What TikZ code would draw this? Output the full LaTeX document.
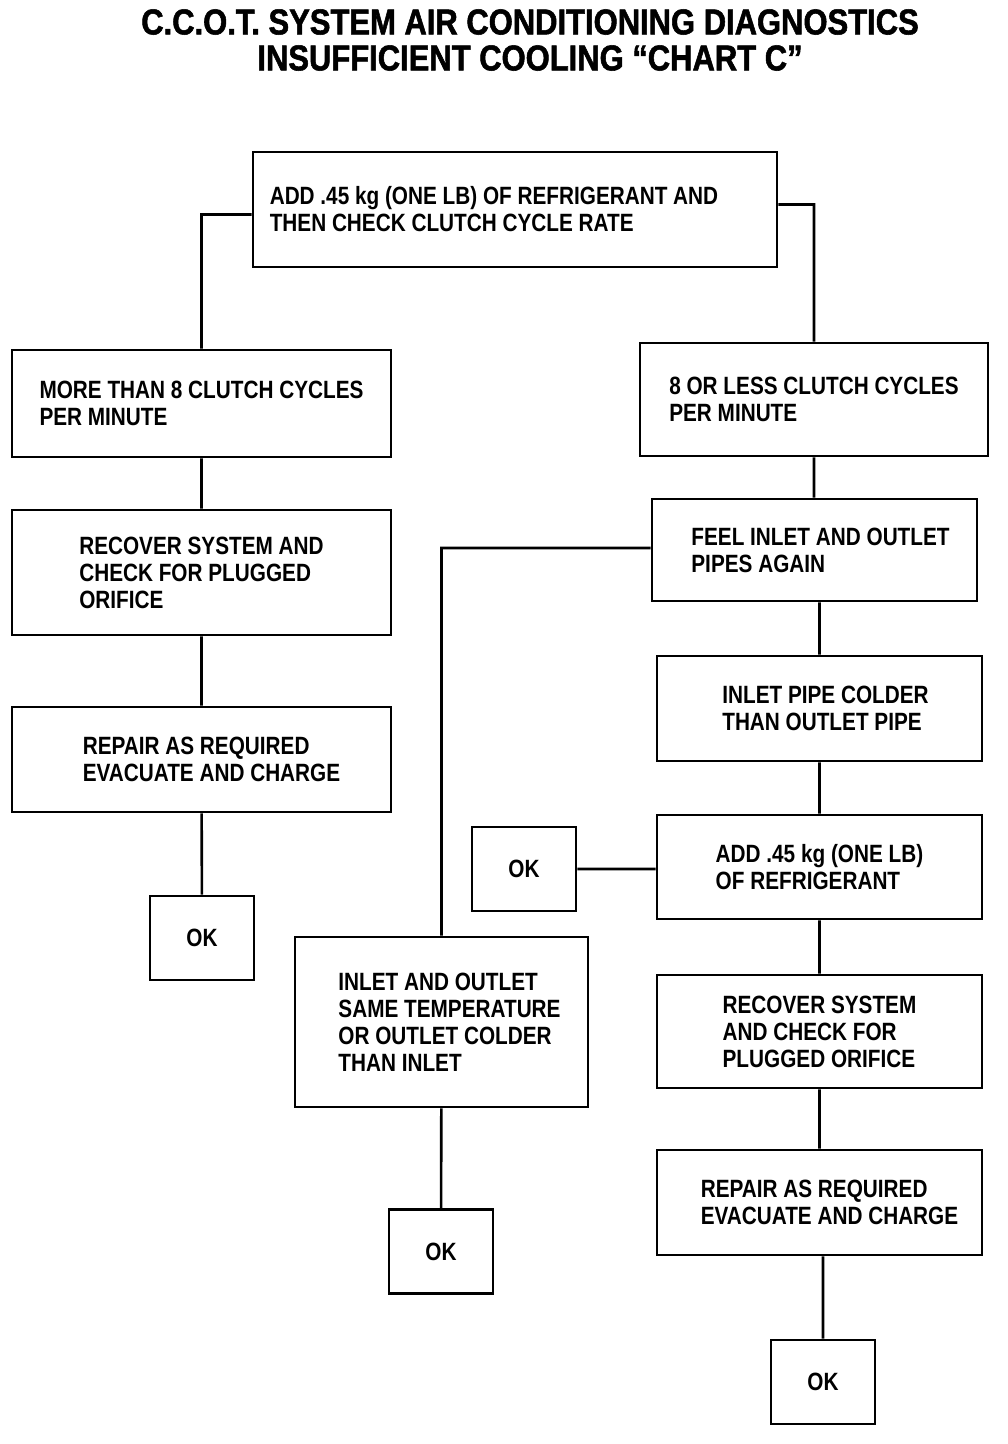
\documentclass[tikz,border=0pt]{standalone}
\usepackage{fontspec}
\setmainfont{Liberation Sans}[FakeStretch=0.83]
\newfontfamily\headfont{Liberation Sans}[FakeStretch=0.86, FakeBold=1.5]
\usepackage{tikz}
\usetikzlibrary{positioning}

\tikzset{
  box/.style={draw, line width=2.6pt, align=left, inner sep=0pt,
    font=\bfseries\fontsize{25}{27}\selectfont},
  okbox/.style={box, minimum width=104, minimum height=84},
}

\begin{document}
\begin{tikzpicture}[x=1pt, y=-1pt, line width=2.6pt]
    \useasboundingbox (0,0) rectangle (1008,1444);
    \node[font=\headfont\bfseries\fontsize{36}{36}\selectfont, align=center] (title) at (530,40)
      {C.C.O.T. SYSTEM AIR CONDITIONING DIAGNOSTICS\\INSUFFICIENT COOLING “CHART C”};
    % left column
    \node[box, minimum width=524, minimum height=115] (add) at (515,209.5)
      {ADD .45 kg (ONE LB) OF REFRIGERANT AND\hspace*{42pt}\\THEN CHECK CLUTCH CYCLE RATE};
    \node[box, minimum width=379, minimum height=107] (more) at (201.5,403.5)
      {MORE THAN 8 CLUTCH CYCLES\\PER MINUTE};
    \node[box, minimum width=379, minimum height=125] (recL) at (201.5,572.5)
      {RECOVER SYSTEM AND\\CHECK FOR PLUGGED\\ORIFICE};
    \node[box, minimum width=379, minimum height=105] (repL) at (201.5,759.5)
      {\hspace*{20pt}REPAIR AS REQUIRED\\\hspace*{20pt}EVACUATE AND CHARGE};
    \node[okbox] (okL) at (202,938) {OK};
    % right column
    \node[box, minimum width=348, minimum height=113] (less) at (814,399.5)
      {8 OR LESS CLUTCH CYCLES\\PER MINUTE};
    \node[box, minimum width=325, minimum height=102] (feel) at (814.5,550)
      {\hspace*{12pt}FEEL INLET AND OUTLET\\\hspace*{12pt}PIPES AGAIN};
    \node[box, minimum width=325, minimum height=105] (colder) at (819.5,708.5)
      {\hspace*{12pt}INLET PIPE COLDER\\\hspace*{12pt}THAN OUTLET PIPE};
    \node[box, minimum width=325, minimum height=104] (addR) at (819.5,867)
      {ADD .45 kg (ONE LB)\\OF REFRIGERANT};
    \node[okbox] (okM) at (524,869) {OK};
    \node[box, minimum width=325, minimum height=113] (recR) at (819.5,1031.5)
      {RECOVER SYSTEM\\AND CHECK FOR\\PLUGGED ORIFICE};
    \node[box, minimum width=325, minimum height=105] (repR) at (819.5,1202.5)
      {\hspace*{20pt}REPAIR AS REQUIRED\\\hspace*{20pt}EVACUATE AND CHARGE};
    \node[okbox] (okR) at (823,1382) {OK};
    % middle column
    \node[box, minimum width=293, minimum height=170] (same) at (441.5,1022)
      {\hspace*{16pt}INLET AND OUTLET\\\hspace*{16pt}SAME TEMPERATURE\\\hspace*{16pt}OR OUTLET COLDER\\\hspace*{16pt}THAN INLET};
    \node[okbox] (okB) at (441,1251.5) {OK};

    \draw ([yshift=-5pt]add.west) -| (more.north)
          ([yshift=5pt]add.east) -| (less.north)
          (more) -- (recL)
          (recL) -- (repL)
          (repL) -- (okL)
          (less.south) -- (less.south |- feel.north)
          ([yshift=2pt]feel.west) -| (same.north)
          (colder.north |- feel.south) -- (colder.north)
          (colder) -- (addR)
          (okM.east) -- (okM.east -| addR.west)
          (addR) -- (recR)
          (recR) -- (repR)
          (okR.north |- repR.south) -- (okR.north)
          (same) -- (okB);
\end{tikzpicture}
\end{document}
